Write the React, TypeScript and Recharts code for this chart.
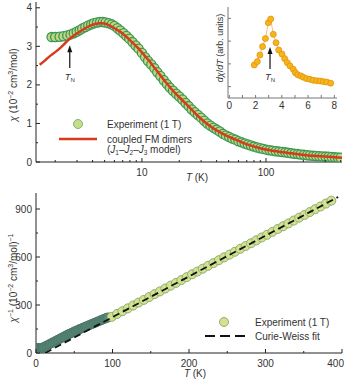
import React from 'react'
import { ComposedChart, Scatter, Line, XAxis, YAxis, ReferenceLine, Legend } from 'recharts'

const FONT = '"Liberation Sans", Arial, Helvetica, sans-serif'
const INK = '#222'
const TXT = '#333'
const RED = '#d83a1c'
const G_FILL = '#bcd886'
const G_EDGE = '#3d9653'
const DENSE_FILL = '#5a8878'
const DENSE_EDGE = '#4b7868'
const PALE_FILL = '#d2e28f'
const PALE_EDGE = '#8fae74'
const ORANGE = '#f7b51c'
const ORANGE_EDGE = '#e3920e'

// top panel: chi(T) on a log T axis
const expT = [1.87, 2.0, 2.17, 2.33, 2.5, 2.66, 2.82, 2.98, 3.15, 3.3, 3.5, 3.7, 3.9, 4.1, 4.35, 4.6, 4.85, 5.1, 5.4, 5.7, 6.0, 6.35, 6.7, 7.1, 7.5, 7.9, 8.4, 8.9, 9.4, 10, 10.6, 11.2, 11.9, 12.6, 13.3, 14.1, 15.0, 15.9, 16.8, 17.8, 18.9, 20, 21.2, 22.5, 23.8, 25.2, 26.7, 28.3, 30, 31.8, 33.7, 35.7, 37.8, 40, 42.4, 45, 47.6, 50.5, 53.5, 56.7, 60, 63.6, 67.4, 71.4, 75.6, 80, 85, 90, 95, 101, 107, 113, 120, 127, 135, 143, 151, 160, 170, 180, 190, 202, 214, 226, 240, 254, 269, 285, 302, 320, 339, 359, 380, 400]
const expChi = [3.24, 3.24, 3.25, 3.26, 3.28, 3.31, 3.34, 3.38, 3.42, 3.46, 3.5, 3.54, 3.57, 3.6, 3.62, 3.63, 3.63, 3.62, 3.6, 3.57, 3.53, 3.47, 3.41, 3.34, 3.27, 3.2, 3.11, 3.02, 2.94, 2.83, 2.72, 2.62, 2.53, 2.43, 2.33, 2.23, 2.12, 2.02, 1.93, 1.85, 1.77, 1.7, 1.62, 1.53, 1.45, 1.36, 1.29, 1.22, 1.15, 1.07, 1.0, 0.94, 0.89, 0.84, 0.79, 0.73, 0.69, 0.65, 0.61, 0.58, 0.54, 0.51, 0.48, 0.455, 0.43, 0.4, 0.375, 0.355, 0.34, 0.32, 0.305, 0.295, 0.28, 0.27, 0.26, 0.25, 0.24, 0.225, 0.215, 0.205, 0.195, 0.185, 0.175, 0.168, 0.16, 0.155, 0.15, 0.145, 0.14, 0.135, 0.13, 0.12, 0.115, 0.11]
const modelT = [1.5, 1.65, 1.8, 2.0, 2.2, 2.4, 2.6, 2.85, 3.15, 3.45, 3.8, 4.2, 4.6, 5.0, 5.5, 6.0, 6.7, 7.3, 8.0, 8.8, 9.6, 10.5, 11.6, 12.7, 14, 15.3, 16.8, 18.4, 20, 22.5, 25, 29, 34, 40, 47, 55, 64, 75, 87, 100, 118, 138, 160, 190, 220, 260, 300, 350, 410]
const modelChi = [2.52, 2.63, 2.74, 2.85, 2.96, 3.08, 3.19, 3.29, 3.38, 3.46, 3.53, 3.58, 3.6, 3.59, 3.54, 3.47, 3.38, 3.28, 3.16, 3.03, 2.91, 2.76, 2.6, 2.43, 2.26, 2.1, 1.94, 1.8, 1.68, 1.52, 1.37, 1.16, 0.97, 0.82, 0.7, 0.6, 0.51, 0.43, 0.37, 0.325, 0.285, 0.25, 0.225, 0.195, 0.17, 0.155, 0.14, 0.125, 0.11]
const logTicks = [2, 3, 4, 5, 6, 7, 8, 9, 10, 20, 30, 40, 50, 60, 70, 80, 90, 100, 200, 300, 400]
const logLabels = [10, 100]
const chiTicks = [0, 0.5, 1, 1.5, 2, 2.5, 3, 3.5, 4]
const chiLabels = [0, 1, 2, 3, 4]
const tnMain = { x: 2.62, from: 2.44, to: 3.03 }

// inset: dchi/dT
const dT = [1.9, 2.13, 2.33, 2.53, 2.75, 2.97, 3.15, 3.35, 3.56, 3.76, 4.01, 4.22, 4.42, 4.62, 4.87, 5.03, 5.21, 5.44, 5.64, 5.89, 6.14, 6.39, 6.65, 6.9, 7.16, 7.42, 7.72]
const dVal = [1.95, 2.1, 2.39, 2.76, 3.11, 3.81, 3.97, 3.3, 2.93, 2.61, 2.43, 2.23, 2.05, 1.91, 1.76, 1.61, 1.52, 1.47, 1.41, 1.35, 1.32, 1.28, 1.26, 1.25, 1.22, 1.2, 1.15]
const insetXTicks = [0, 1, 2, 3, 4, 5, 6, 7, 8]
const insetXLabels = [0, 2, 4, 6, 8]
const insetYTicks = [1, 2, 3, 4]
const tnInset = { x: 3.1, from: 1.77, to: 2.74 }

// bottom panel: 1/chi vs T
const lowT = [2, 3, 4, 5, 6, 7, 8, 9, 10, 12, 14, 16, 18, 20, 22, 24, 26, 28, 30, 32, 34, 36, 38, 40, 42, 44, 46, 48, 50, 52, 54, 56, 58, 60, 62, 64, 66, 68, 70, 72, 74, 76, 78, 80, 82, 84, 86, 88, 90, 92, 94]
const lowInv = [31, 29.5, 28, 27.5, 28.5, 30, 32, 34, 36, 41, 46, 51, 56, 61, 66, 71, 76, 81, 86, 91, 96, 101, 106, 111, 116, 120, 125, 129, 134, 138, 142, 147, 151, 155, 159, 163, 167, 171, 175, 179, 183, 187, 191, 195, 199, 203, 207, 211, 215, 219, 222]
const highT = [99, 106, 113, 120, 127, 134, 141, 148, 155, 162, 169, 176, 183, 190, 197, 204, 211, 218, 225, 232, 239, 246, 253, 260, 267, 274, 281, 288, 295, 302, 309, 316, 323, 330, 337, 344, 351, 358, 365, 372, 379, 386]
const highInv = [226, 244, 261, 279, 297, 315, 332, 350, 368, 385, 403, 421, 438, 456, 474, 492, 509, 527, 545, 562, 580, 598, 615, 633, 651, 669, 686, 704, 722, 739, 757, 775, 792, 810, 828, 846, 863, 881, 899, 916, 934, 952]
const cwT = [12, 395]
const cwInv = [0, 975]
const tTicks = [0, 50, 100, 150, 200, 250, 300, 350, 400]
const tLabels = [0, 100, 200, 300, 400]
const invTicks = [0, 150, 300, 450, 600, 750, 900]
const invLabels = [0, 300, 600, 900]

const pts = (xs: number[], ys: number[]) => xs.map((x, i) => ({ x, y: ys[i] }))

type Side = 'bottom' | 'top' | 'left' | 'right'
type TickOpts = { long?: number; short?: number; text?: boolean; stroke?: string; gap?: number; size?: number; edge?: number }

const tickFor = (side: Side, labels: number[], o: TickOpts = {}) => (p: any) => {
  const { long = 4, short = 2, text = true, stroke = INK, gap = 13.5, size = 10, edge = 1e9 } = o
  const v = p.payload.value
  const major = labels.some((l) => Math.abs(l - v) < 1e-9)
  const len = major ? long : short
  const { x, y } = p
  let c = [x, y, x, y - len]
  if (side === 'top') c = [x, y, x, y + len]
  if (side === 'left') c = [x, y, x + len, y]
  if (side === 'right') c = [x, y, x - len, y]
  // keep the last label inside the picture
  const atEdge = x > edge
  return (
    <g>
      <line x1={c[0]} y1={c[1]} x2={c[2]} y2={c[3]} stroke={stroke} strokeWidth={1} />
      {text && major && side === 'bottom' && (
        <text x={atEdge ? 344 : x} y={y + gap} textAnchor={atEdge ? 'end' : 'middle'} fontFamily={FONT} fontSize={size} fill={TXT}>{v}</text>
      )}
      {text && major && side === 'left' && (
        <text x={x - 4} y={y + 3.5} textAnchor="end" fontFamily={FONT} fontSize={size} fill={TXT}>{v}</text>
      )}
    </g>
  )
}

const dot = (fill: string, stroke: string, r = 4.5, w = 1) => (p: any) => (
  <circle cx={p.cx} cy={p.cy} r={r} fill={fill} stroke={stroke} strokeWidth={w} />
)
const noDot = () => <g />

const arrow = (gap: number) => (p: any) => {
  const x = p.x1
  const top = Math.min(p.y1, p.y2)
  const bot = Math.max(p.y1, p.y2)
  return (
    <g>
      <line x1={x} x2={x} y1={bot} y2={top + 5} stroke="#111" strokeWidth={1.2} />
      <polygon points={`${x},${top} ${x - 2.5},${top + 7} ${x + 2.5},${top + 7}`} fill="#111" />
      <text x={x} y={bot + gap} textAnchor="middle" fontFamily={FONT} fontSize={9.5} fill={TXT}>
        <tspan fontStyle="italic">T</tspan>
        <tspan fontSize={6} dy={2}>N</tspan>
      </text>
    </g>
  )
}

const TTitle = (cx: number, cy: number) => () => (
  <text x={cx} y={cy} textAnchor="middle" fontFamily={FONT} fontSize={10} fill={TXT}>
    <tspan fontStyle="italic">T</tspan> (K)
  </text>
)

const ChiTitle = () => (
  <text transform="translate(13,85) rotate(-90)" y={3.5} textAnchor="middle" fontFamily={FONT} fontSize={10} fill={TXT}>
    <tspan fontStyle="italic">χ</tspan> (10<tspan dy={-4} fontSize={7}>−2</tspan>
    <tspan dy={4}> cm</tspan><tspan dy={-4} fontSize={7}>3</tspan><tspan dy={4}>/mol)</tspan>
  </text>
)

const InvTitle = () => (
  <text transform="translate(13,88) rotate(-90)" y={3.5} textAnchor="middle" fontFamily={FONT} fontSize={10} fill={TXT}>
    <tspan fontStyle="italic">χ</tspan><tspan dy={-4} fontSize={7}>−1</tspan>
    <tspan dy={4}> (10</tspan><tspan dy={-4} fontSize={7}>−2</tspan>
    <tspan dy={4}> cm</tspan><tspan dy={-4} fontSize={7}>3</tspan><tspan dy={4}>/mol)</tspan>
    <tspan dy={-4} fontSize={7}>−1</tspan>
  </text>
)

const InsetTitle = () => (
  <text transform="translate(20,48) rotate(-90)" y={3} textAnchor="middle" fontFamily={FONT} fontSize={9} fill={TXT}>
    <tspan fontStyle="italic">d</tspan><tspan fontStyle="italic">χ</tspan>/<tspan fontStyle="italic">dT</tspan> (arb. units)
  </text>
)

const TopKey = () => (
  <svg width={145} height={42} style={{ display: 'block' }}>
    <circle cx={23} cy={8} r={4.5} fill="#c6dd8c" stroke="#86b06e" />
    <text x={52} y={11.5} fontFamily={FONT} fontSize={10} fill={TXT}>Experiment (1 T)</text>
    <line x1={4} x2={42} y1={23} y2={23} stroke={RED} strokeWidth={2.5} />
    <text x={52} y={26.5} fontFamily={FONT} fontSize={10} fill={TXT}>coupled FM dimers</text>
    <text x={52} y={36.5} fontFamily={FONT} fontSize={10} fill={TXT}>
      (<tspan fontStyle="italic">J</tspan><tspan fontSize={6.5} dy={2}>1</tspan>
      <tspan dy={-2}>–</tspan><tspan fontStyle="italic">J</tspan><tspan fontSize={6.5} dy={2}>2</tspan>
      <tspan dy={-2}>–</tspan><tspan fontStyle="italic">J</tspan><tspan fontSize={6.5} dy={2}>3</tspan>
      <tspan dy={-2}> model)</tspan>
    </text>
  </svg>
)

const BottomKey = () => (
  <svg width={140} height={32} style={{ display: 'block' }}>
    <circle cx={24} cy={8} r={4.5} fill={PALE_FILL} stroke={PALE_EDGE} />
    <text x={55} y={11.5} fontFamily={FONT} fontSize={10} fill={TXT}>Experiment (1 T)</text>
    <line x1={5} x2={45} y1={22} y2={22} stroke="#111" strokeWidth={2} strokeDasharray="10 5" />
    <text x={55} y={25.5} fontFamily={FONT} fontSize={10} fill={TXT}>Curie-Weiss fit</text>
  </svg>
)

const axisLine = { stroke: INK, strokeWidth: 1 }
const bare = { tickSize: 0, tickMargin: 0, tickLine: false, interval: 0 as const, allowDataOverflow: true }

export default function App() {
  return (
    <div style={{ position: 'absolute', left: 0, top: 0, width: 345, height: 382, background: '#fff' }}>
      <div style={{ position: 'absolute', left: 0, top: 0 }}>
        <ComposedChart width={345} height={190} margin={{ top: 2, right: 3, bottom: 0, left: 0 }}>
          <XAxis type="number" dataKey="x" scale="log" domain={[1.4, 410]} ticks={logTicks} height={28} {...bare}
            axisLine={axisLine} tick={tickFor('bottom', logLabels, { gap: 13.5 })} label={TTitle(197, 181)} />
          <XAxis xAxisId="top" orientation="top" type="number" dataKey="x" scale="log" domain={[1.4, 410]} ticks={logTicks}
            height={0} {...bare} axisLine={axisLine} tick={tickFor('top', logLabels, { text: false })} />
          <YAxis type="number" dataKey="y" domain={[0, 4.15]} ticks={chiTicks} width={36} {...bare}
            axisLine={axisLine} tick={tickFor('left', chiLabels)} label={ChiTitle} />
          <YAxis yAxisId="right" orientation="right" type="number" dataKey="y" domain={[0, 4.15]} ticks={chiTicks}
            width={0} {...bare} axisLine={axisLine} tick={tickFor('right', chiLabels, { text: false })} />
          <Scatter data={pts(expT, expChi)} dataKey="y" shape={dot(G_FILL, G_EDGE, 4.6, 1.3)} isAnimationActive={false} />
          <Scatter data={pts(modelT, modelChi)} dataKey="y" shape={noDot} lineJointType="monotoneX"
            line={{ stroke: RED, strokeWidth: 2.5 }} isAnimationActive={false} />
          <ReferenceLine segment={[{ x: tnMain.x, y: tnMain.from }, { x: tnMain.x, y: tnMain.to }]} shape={arrow(12)} />
          <Legend layout="vertical" align="center" verticalAlign="middle"
            wrapperStyle={{ left: 55, top: 116, width: 145, height: 42 }} content={() => <TopKey />} />
        </ComposedChart>
      </div>

      <div style={{ position: 'absolute', left: 200, top: 0 }}>
        <ComposedChart width={145} height={115} margin={{ top: 7, right: 8, bottom: 0, left: 0 }}>
          <XAxis type="number" dataKey="x" domain={[-0.1, 8.2]} ticks={insetXTicks} height={17} {...bare}
            axisLine={{ stroke: '#777' }} tick={tickFor('bottom', insetXLabels, { long: 3, short: 3, gap: 11, stroke: '#777' })} />
          <XAxis xAxisId="top" orientation="top" type="number" dataKey="x" domain={[-0.1, 8.2]} height={0} {...bare}
            axisLine={{ stroke: '#777' }} tick={false} />
          <YAxis type="number" dataKey="y" domain={[0.5, 4.5]} ticks={insetYTicks} width={28} {...bare}
            axisLine={{ stroke: '#777' }} tick={tickFor('left', [], { short: 3, text: false, stroke: '#777' })} label={InsetTitle} />
          <YAxis yAxisId="right" orientation="right" type="number" dataKey="y" domain={[0.5, 4.5]} width={0} {...bare}
            axisLine={{ stroke: '#777' }} tick={false} />
          <Line data={pts(dT, dVal)} dataKey="y" type="linear" stroke="#f0b47a" strokeWidth={0.9}
            dot={{ r: 3, fill: ORANGE, stroke: ORANGE_EDGE, strokeWidth: 0.8 }} isAnimationActive={false} />
          <ReferenceLine segment={[{ x: tnInset.x, y: tnInset.from }, { x: tnInset.x, y: tnInset.to }]} shape={arrow(11)} />
        </ComposedChart>
      </div>

      <div style={{ position: 'absolute', left: 0, top: 190 }}>
        <ComposedChart width={345} height={192} margin={{ top: 3, right: 3, bottom: 0, left: 0 }}>
          <XAxis type="number" dataKey="x" domain={[0, 400]} ticks={tTicks} height={29} {...bare}
            axisLine={axisLine} tick={tickFor('bottom', tLabels, { gap: 14, edge: 335 })} label={TTitle(195, 187)} />
          <XAxis xAxisId="top" orientation="top" type="number" dataKey="x" domain={[0, 400]} ticks={tTicks}
            height={0} {...bare} axisLine={axisLine} tick={tickFor('top', tLabels, { text: false })} />
          <YAxis type="number" dataKey="y" domain={[0, 1000]} ticks={invTicks} width={36} {...bare}
            axisLine={axisLine} tick={tickFor('left', invLabels)} label={InvTitle} />
          <YAxis yAxisId="right" orientation="right" type="number" dataKey="y" domain={[0, 1000]} ticks={invTicks}
            width={0} {...bare} axisLine={axisLine} tick={tickFor('right', invLabels, { text: false })} />
          <Scatter data={pts(lowT, lowInv)} dataKey="y" shape={dot(DENSE_FILL, DENSE_EDGE)} isAnimationActive={false} />
          <Scatter data={pts(highT, highInv)} dataKey="y" shape={dot(PALE_FILL, PALE_EDGE)} isAnimationActive={false} />
          <Scatter data={pts(cwT, cwInv)} dataKey="y" shape={noDot}
            line={{ stroke: '#111', strokeWidth: 1.8, strokeDasharray: '7 4' }} isAnimationActive={false} />
          <Legend layout="vertical" align="center" verticalAlign="middle"
            wrapperStyle={{ left: 200, top: 124, width: 140, height: 32 }} content={() => <BottomKey />} />
        </ComposedChart>
      </div>
    </div>
  )
}
